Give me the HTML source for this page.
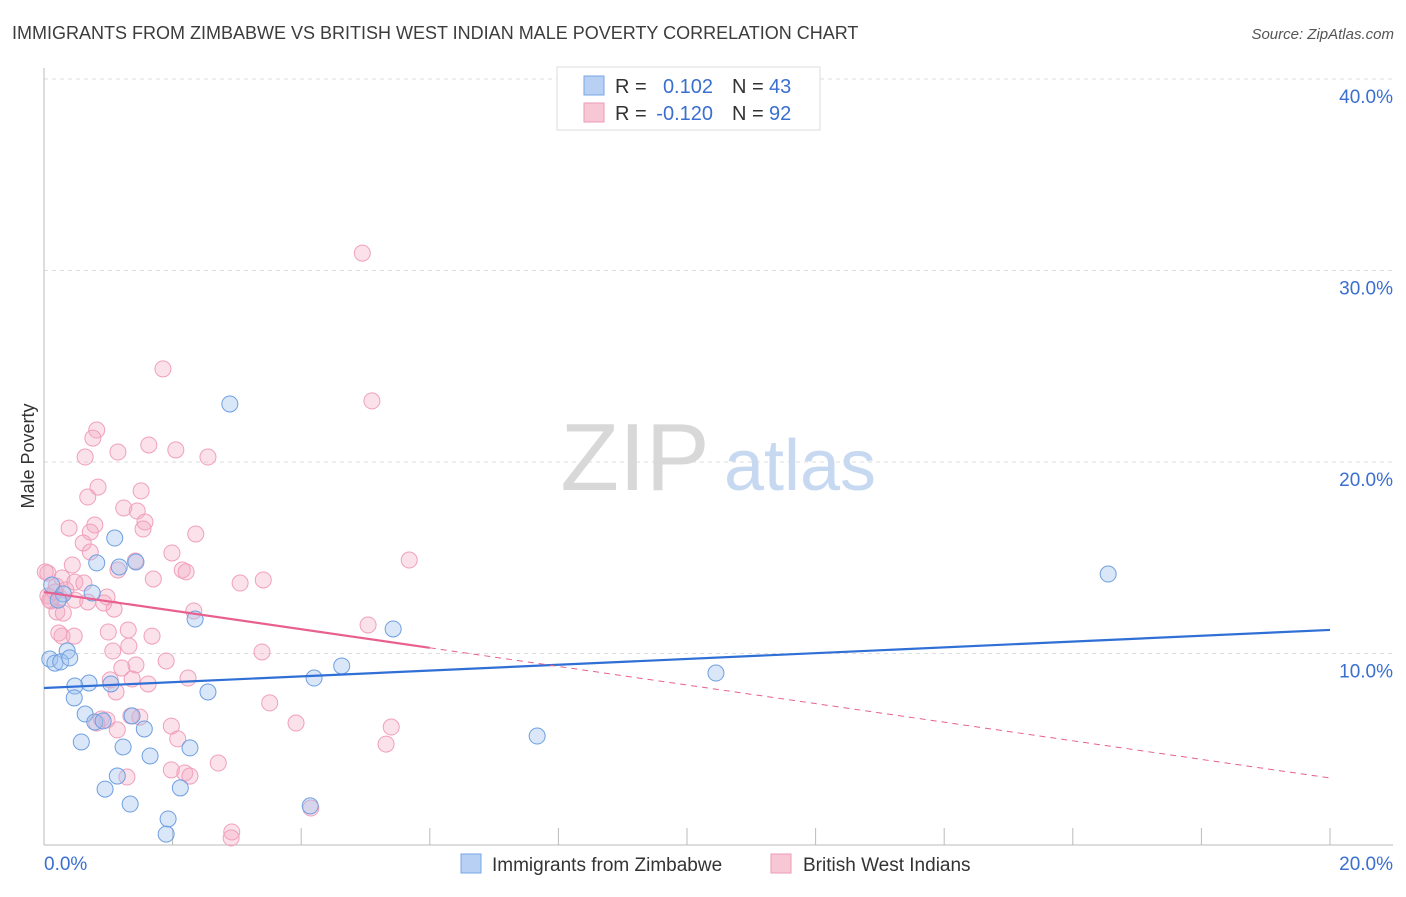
<!DOCTYPE html>
<html><head><meta charset="utf-8"><style>
body{margin:0;background:#fff;font-family:"Liberation Sans",sans-serif;}
svg text{font-family:"Liberation Sans",sans-serif;}
</style></head><body>
<svg id="chart" width="1406" height="892" xmlns="http://www.w3.org/2000/svg">
<text x="12" y="39" font-size="18" fill="#3c3c3c">IMMIGRANTS FROM ZIMBABWE VS BRITISH WEST INDIAN MALE POVERTY CORRELATION CHART</text>
<text x="1394" y="39" font-size="15" fill="#555" text-anchor="end" font-style="italic">Source: ZipAtlas.com</text>
<text transform="translate(34,456) rotate(-90)" font-size="18" fill="#333" text-anchor="middle">Male Poverty</text>
<g id="grid"></g>
<g id="watermark">
<text x="635" y="490" font-size="96" fill="#d8d8d8" text-anchor="middle" font-family="Liberation Serif">ZIP</text>
<text x="800" y="490" font-size="72" fill="#c7d9f1" text-anchor="middle">atlas</text>
</g>
<g id="marks"></g>
<g id="legend">
<rect x="557" y="67" width="263" height="63" fill="#fff" stroke="#ddd"/>
<rect x="584" y="76" width="20" height="19" fill="#b7d0f4" stroke="#7aa6e6"/>
<rect x="584" y="103" width="20" height="19" fill="#f8c7d6" stroke="#ef9ab6"/>
<text x="615" y="93" font-size="20" fill="#333">R =</text>
<text x="713" y="93" font-size="20" fill="#3a6fd0" text-anchor="end">0.102</text>
<text x="732" y="93" font-size="20" fill="#333">N =</text>
<text x="769" y="93" font-size="20" fill="#3a6fd0">43</text>
<text x="615" y="120" font-size="20" fill="#333">R =</text>
<text x="713" y="120" font-size="20" fill="#3a6fd0" text-anchor="end">-0.120</text>
<text x="732" y="120" font-size="20" fill="#333">N =</text>
<text x="769" y="120" font-size="20" fill="#3a6fd0">92</text>
</g>
<g id="bottom-legend">
<rect x="461" y="854" width="20" height="19" fill="#b7d0f4" stroke="#7aa6e6"/>
<text x="492" y="871" font-size="19" fill="#333">Immigrants from Zimbabwe</text>
<rect x="771" y="854" width="20" height="19" fill="#f8c7d6" stroke="#ef9ab6"/>
<text x="803" y="871" font-size="19" fill="#333">British West Indians</text>
</g>
</svg>
<script>
const yTicks=[10,20,30,40];
const yTickLabels=["10.0%","20.0%","30.0%","40.0%"];
const xTickLabels=["0.0%","20.0%"];
const blueX=[2.89,1.10,0.82,1.43,1.17,0.12,0.30,0.75,2.35,5.43,0.36,0.09,0.17,0.26,0.40,4.20,4.63,10.45,0.70,0.48,1.04,2.55,0.47,0.64,0.79,0.92,1.37,1.56,0.58,1.23,1.65,2.27,7.67,1.14,0.95,2.12,1.34,4.14,1.93,1.90,16.55,0.22];
const blueY=[23.03,16.03,14.73,14.78,14.52,13.58,13.11,13.16,11.80,11.28,10.13,9.71,9.50,9.56,9.77,8.72,9.35,8.98,8.46,8.30,8.41,7.99,7.68,6.84,6.42,6.48,6.74,6.06,5.38,5.12,4.65,5.07,5.69,3.60,2.92,2.98,2.14,2.04,1.36,0.57,14.15,12.79];
const pinkX=[4.95,1.85,5.10,0.82,0.76,1.63,0.64,1.15,2.05,2.55,0.84,1.51,0.68,1.24,1.45,0.39,0.79,0.72,1.57,2.36,1.54,0.61,0.72,1.99,1.42,5.68,0.44,1.15,2.15,2.21,1.70,3.05,3.41,0.06,0.28,0.48,0.19,0.62,0.06,0.25,0.48,0.98,0.93,0.68,0.20,0.30,1.09,2.33,0.11,0.34,5.04,0.28,0.47,1.31,1.00,1.68,1.32,1.07,3.39,1.90,1.43,1.21,2.24,1.03,1.37,1.62,1.12,3.51,1.35,0.89,0.98,3.92,1.98,5.40,1.14,2.08,5.32,2.71,2.19,1.98,2.27,1.29,4.15,2.92,2.91,0.23,0.02,0.09,0.17,1.49,0.82];
const pinkY=[30.91,24.86,23.19,21.67,21.25,20.89,20.26,20.52,20.63,20.26,18.69,18.49,18.17,17.60,17.44,16.55,16.71,16.34,16.87,16.24,16.50,15.77,15.30,15.25,14.83,14.88,14.62,14.36,14.36,14.26,13.89,13.68,13.84,14.20,13.94,13.73,13.52,13.68,13.00,12.90,12.79,12.95,12.64,12.69,12.17,12.11,12.32,12.22,12.74,13.32,11.49,10.91,10.91,11.23,11.12,10.91,10.39,10.13,10.08,9.61,9.40,9.24,8.72,8.62,8.67,8.41,7.99,7.42,6.74,6.58,6.53,6.37,6.21,6.16,6.01,5.54,5.27,4.28,3.76,3.92,3.60,3.55,1.93,0.68,0.37,11.07,14.26,12.79,13.21,6.68,6.37];
const blueFit=[8.20,11.23];
const pinkFit=[13.21,3.50];
const pinkSolidEnd=6;

const NS="http://www.w3.org/2000/svg";
const X0=44,X1=1330,Y0=845,Y1=79;
const sx=v=>X0+(X1-X0)*v/20;
const sy=v=>Y0-(Y0-Y1)*v/40;
function mk(t,a,p){const e=document.createElementNS(NS,t);for(const k in a)e.setAttribute(k,a[k]);p.appendChild(e);return e;}
const grid=document.getElementById('grid'),marks=document.getElementById('marks'),svg=document.getElementById('chart');
yTicks.forEach((t,i)=>{
 const l=mk('line',{x1:44,x2:1393,y1:sy(t),y2:sy(t),stroke:'#ddd','stroke-dasharray':'4,4'},grid);
 
 
 const tx=mk('text',{x:1393,y:sy(t)+24,'font-size':19,fill:'#3a6fd0','text-anchor':'end'},grid);
 tx.textContent=yTickLabels[i];
 
 
});
const ax=mk('line',{x1:44,x2:44,y1:68,y2:845,stroke:'#bbb'},grid);


const bx=mk('line',{x1:44,x2:1393,y1:845,y2:845,stroke:'#bbb'},grid);


for(let i=0;i<=10;i++){
 const t=mk('line',{x1:sx(i*2),x2:sx(i*2),y1:828,y2:845,stroke:'#bbb'},grid);
 
 
}
[[0,'start'],[20,'end']].forEach((d,i)=>{
 const t=mk('text',{x:i?1393:44,y:870,'font-size':19,fill:'#3a6fd0','text-anchor':d[1]},grid);
 t.textContent=xTickLabels[i];
 
 
});
pinkX.forEach((x,i)=>{
 const c=mk('circle',{cx:sx(x),cy:sy(pinkY[i]),r:8,fill:'rgba(244,170,195,0.35)',stroke:'#f0a0bb','stroke-width':1},marks);
 
 
});
blueX.forEach((x,i)=>{
 const c=mk('circle',{cx:sx(x),cy:sy(blueY[i]),r:8,fill:'rgba(160,195,240,0.4)',stroke:'#6f9fe0','stroke-width':1},marks);
 
 
});
const bl=mk('line',{x1:sx(0),y1:sy(blueFit[0]),x2:sx(20),y2:sy(blueFit[1]),stroke:'#2f6fd6','stroke-width':2.2},marks);


const py=x=>pinkFit[0]+(pinkFit[1]-pinkFit[0])*x/20;
const pl=mk('line',{x1:sx(0),y1:sy(pinkFit[0]),x2:sx(pinkSolidEnd),y2:sy(py(pinkSolidEnd)),stroke:'#e8608f','stroke-width':2.2},marks);


const pd=mk('line',{x1:sx(pinkSolidEnd),y1:sy(py(pinkSolidEnd)),x2:sx(20),y2:sy(pinkFit[1]),stroke:'#e8608f','stroke-width':1,'stroke-dasharray':'6,5'},marks);


</script>
</body></html>
